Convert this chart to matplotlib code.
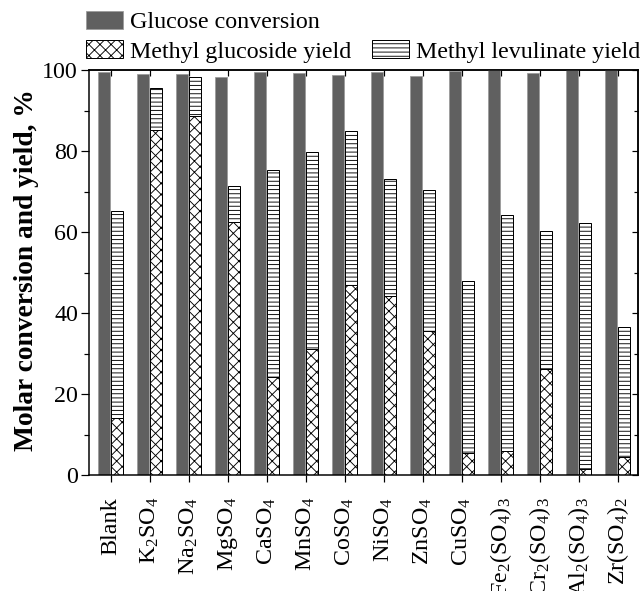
import matplotlib
matplotlib.use('Agg')
import matplotlib.pyplot as plt
import numpy as np
from matplotlib.patches import Patch
from matplotlib.ticker import MultipleLocator

DPI = 100
def pt(px):
    return px * 72.0 / DPI

plt.rcParams['font.family'] = ['Liberation Serif', 'DejaVu Serif']
plt.rcParams['mathtext.fontset'] = 'custom'
plt.rcParams['mathtext.rm'] = 'Liberation Serif'
plt.rcParams['mathtext.it'] = 'Liberation Serif:italic'
plt.rcParams['mathtext.bf'] = 'Liberation Serif:bold'
plt.rcParams['hatch.linewidth'] = pt(0.9)

categories = ['Blank', 'K$_2$SO$_4$', 'Na$_2$SO$_4$', 'MgSO$_4$', 'CaSO$_4$', 'MnSO$_4$',
              'CoSO$_4$', 'NiSO$_4$', 'ZnSO$_4$', 'CuSO$_4$', 'Fe$_2$(SO$_4$)$_3$',
              'Cr$_2$(SO$_4$)$_3$', 'Al$_2$(SO$_4$)$_3$', 'Zr(SO$_4$)$_2$']
glucose_conversion = [99.5, 98.9, 98.9, 98.2, 99.5, 99.2, 98.7, 99.5, 98.5, 99.8, 100.0, 99.2, 100.0, 100.0]
methyl_glucoside_yield = [14.0, 85.2, 88.6, 62.4, 24.1, 31.0, 46.9, 44.3, 35.6, 5.5, 5.9, 26.2, 1.5, 4.5]
methyl_levulinate_yield = [51.3, 10.3, 9.6, 8.9, 51.1, 48.7, 38.0, 28.8, 34.8, 42.5, 58.2, 34.0, 60.8, 32.1]

fig = plt.figure(figsize=(640 / DPI, 591 / DPI), dpi=DPI)
ax = fig.add_axes([89 / 640, 1 - 475 / 591, (638 - 89) / 640, 405 / 591])

x = np.arange(len(categories))
w = 0.30
ax.bar(x - 0.165, glucose_conversion, w, color='#606060', edgecolor='#9a9a9a',
       linewidth=pt(0.8), label='Glucose conversion', zorder=2)
ax.bar(x + 0.155, methyl_glucoside_yield, w, color='white', edgecolor='black',
       hatch='xxx', linewidth=pt(1.0), label='Methyl glucoside yield', zorder=2)
ax.bar(x + 0.155, methyl_levulinate_yield, w, bottom=methyl_glucoside_yield, color='white',
       edgecolor='black', hatch='----', linewidth=pt(1.0), label='Methyl levulinate yield', zorder=2)

ax.set_xlim(-0.556, 13.52)
ax.set_ylim(0, 100)
ax.yaxis.set_major_locator(MultipleLocator(20))
ax.yaxis.set_minor_locator(MultipleLocator(10))
ax.set_xticks(x)
ax.set_xticklabels(categories, rotation=90, fontsize=pt(24))
ax.tick_params(axis='y', which='major', direction='out', length=pt(8), width=pt(1.2),
               labelsize=pt(24), pad=pt(3))
ax.tick_params(axis='y', which='minor', direction='out', length=pt(5), width=pt(1.2))
ax.tick_params(axis='x', which='major', direction='out', length=pt(7), width=pt(1.2), pad=pt(15))

# mirror ticks (inward) on top and right
axr = ax.secondary_yaxis('right')
axr.yaxis.set_major_locator(MultipleLocator(20))
axr.yaxis.set_minor_locator(MultipleLocator(10))
axr.tick_params(which='both', direction='in', labelright=False, width=pt(1.2))
axr.tick_params(which='major', length=pt(6))
axr.tick_params(which='minor', length=pt(4))
axt = ax.secondary_xaxis('top')
axt.set_xticks(x)
axt.tick_params(direction='in', labeltop=False, length=pt(6), width=pt(1.2))
axt.set_xticklabels([])

for s in ax.spines.values():
    s.set_linewidth(pt(1.5))
axr.spines['right'].set_linewidth(pt(1.5))
axt.spines['top'].set_linewidth(pt(1.5))

ax.set_ylabel('Molar conversion and yield, %', fontsize=pt(27.5), fontweight='bold')
ax.yaxis.set_label_coords(-(89 - 39) / 549, (475 - 270) / 405)

handles, labels = ax.get_legend_handles_labels()
empty = Patch(facecolor='none', edgecolor='none')
leg = fig.legend([handles[0], handles[1], empty, handles[2]],
                 [labels[0], labels[1], '', labels[2]],
                 ncol=2, loc='upper left', bbox_to_anchor=(86 / 640, 1 - 11 / 591),
                 frameon=False, fontsize=pt(24), handlelength=1.55, handleheight=0.75,
                 handletextpad=0.3, columnspacing=0.85, labelspacing=0.3,
                 borderpad=0, borderaxespad=0)

fig.savefig('out.png', dpi=DPI)
